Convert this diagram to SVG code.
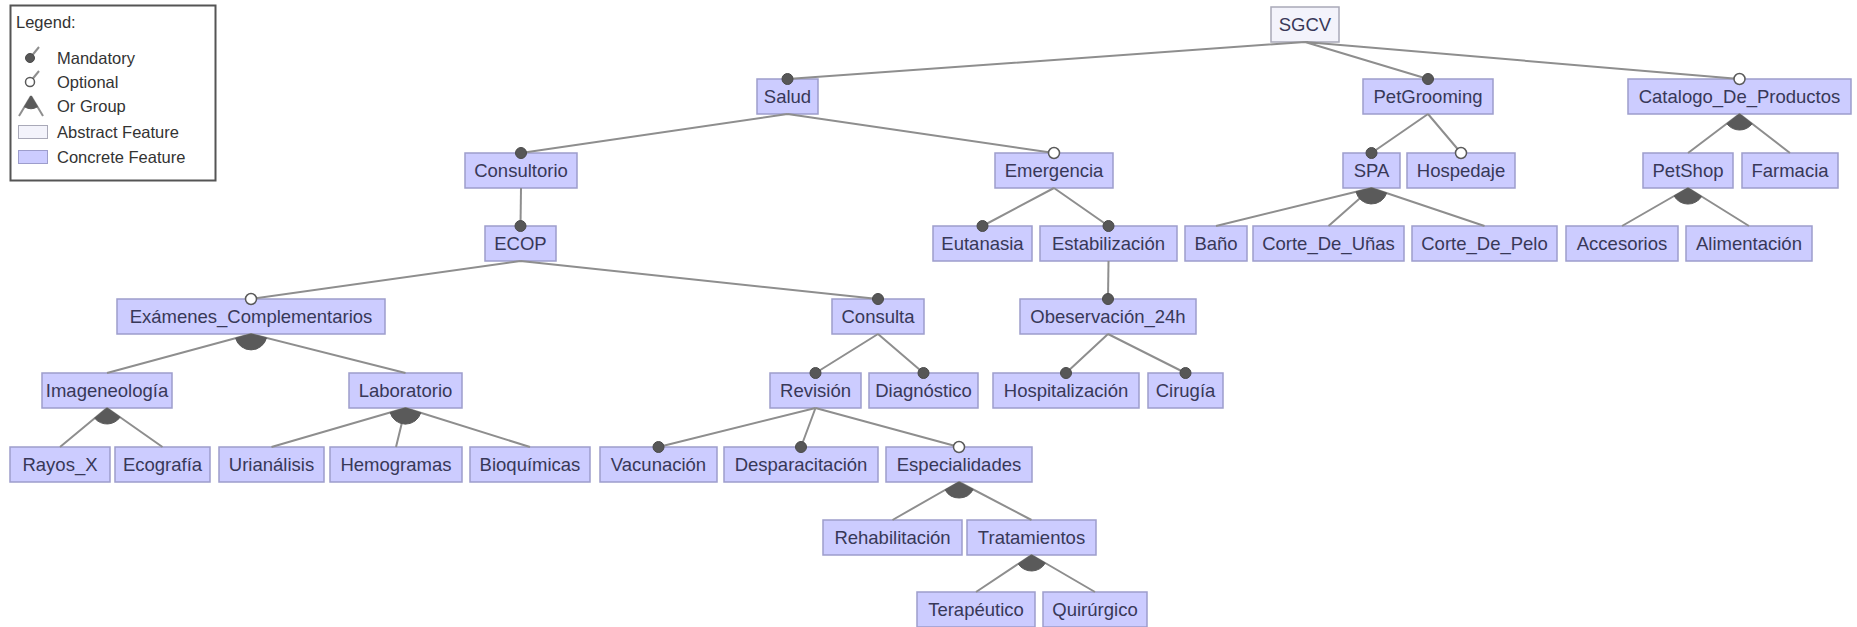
<svg xmlns="http://www.w3.org/2000/svg" width="1857" height="627" viewBox="0 0 1857 627">
  <style>
    .bg { fill: #ffffff; }
    .feat rect { fill: #ccccff; stroke: #9d9dcc; stroke-width: 1.5; }
    .feat.abstract rect { fill: #f3f3fb; stroke: #a9a9b8; }
    .feat text, .legend text { font-family: "Liberation Sans", Arial, sans-serif; text-anchor: middle; }
    .feat text { font-size: 18.5px; fill: #383858; }
    .legend text { font-size: 16.5px; fill: #333333; text-anchor: start; }
    .edge { stroke: #8e8e8e; stroke-width: 2; fill: none; }
    .mand { fill: #575757; stroke: #4a4a4a; stroke-width: 1; }
    .opt { fill: #ffffff; stroke: #5a5a5a; stroke-width: 1.5; }
    .orgrp { fill: #5a5a5a; stroke: #5a5a5a; stroke-width: 1; }
  </style>

  <rect class="bg" x="0" y="0" width="1857" height="627"/>

  <!-- legend -->
  <g id="legend" class="legend">
    <rect x="10.5" y="5.5" width="205" height="175" fill="#ffffff" stroke="#555555" stroke-width="2"/>
    <text x="16" y="28">Legend:</text>
    <line x1="30" y1="58" x2="39" y2="47" class="edge" stroke-width="1.5"/>
    <circle cx="30" cy="58" r="4.5" class="mand"/>
    <text x="57" y="64">Mandatory</text>
    <line x1="30" y1="82" x2="39" y2="71" class="edge" stroke-width="1.5"/>
    <circle cx="30" cy="82" r="4.5" class="opt"/>
    <text x="57" y="88">Optional</text>
    <line x1="31" y1="96" x2="19" y2="116" class="edge" stroke-width="1.5"/>
    <line x1="31" y1="96" x2="43" y2="116" class="edge" stroke-width="1.5"/>
    <path d="M31,96 L24.5,106.8 A12.5,12.5 0 0 0 37.5,106.8 Z" class="orgrp"/>
    <text x="57" y="112">Or Group</text>
    <rect x="18.5" y="125.5" width="29" height="13" fill="#f3f3fb" stroke="#a9a9b8" stroke-width="1"/>
    <text x="57" y="138">Abstract Feature</text>
    <rect x="18.5" y="150.5" width="29" height="13" fill="#ccccff" stroke="#9d9dcc" stroke-width="1"/>
    <text x="57" y="163">Concrete Feature</text>
  </g>

  <!-- features -->
  <g id="SGCV" class="feat abstract"><rect x="1271" y="7" width="68" height="35"/><text x="1305" y="31">SGCV</text></g>

  <g id="Salud" class="feat"><rect x="757" y="79" width="61" height="35"/><text x="787.5" y="103">Salud</text></g>
  <g id="PetGrooming" class="feat"><rect x="1363" y="79" width="130" height="35"/><text x="1428" y="103">PetGrooming</text></g>
  <g id="Catalogo_De_Productos" class="feat"><rect x="1628" y="79" width="223" height="35"/><text x="1739.5" y="103">Catalogo_De_Productos</text></g>

  <g id="Consultorio" class="feat"><rect x="465" y="153" width="112" height="35"/><text x="521" y="177">Consultorio</text></g>
  <g id="Emergencia" class="feat"><rect x="995" y="153" width="118" height="35"/><text x="1054" y="177">Emergencia</text></g>
  <g id="SPA" class="feat"><rect x="1343" y="153" width="57" height="35"/><text x="1371.5" y="177">SPA</text></g>
  <g id="Hospedaje" class="feat"><rect x="1407" y="153" width="108" height="35"/><text x="1461" y="177">Hospedaje</text></g>
  <g id="PetShop" class="feat"><rect x="1643" y="153" width="90" height="35"/><text x="1688" y="177">PetShop</text></g>
  <g id="Farmacia" class="feat"><rect x="1742" y="153" width="96" height="35"/><text x="1790" y="177">Farmacia</text></g>

  <g id="ECOP" class="feat"><rect x="485" y="226" width="71" height="35"/><text x="520.5" y="250">ECOP</text></g>
  <g id="Eutanasia" class="feat"><rect x="933" y="226" width="99" height="35"/><text x="982.5" y="250">Eutanasia</text></g>
  <g id="Estabilizacion" class="feat"><rect x="1040" y="226" width="137" height="35"/><text x="1108.5" y="250">Estabilización</text></g>
  <g id="Bano" class="feat"><rect x="1185" y="226" width="62" height="35"/><text x="1216" y="250">Baño</text></g>
  <g id="Corte_De_Unas" class="feat"><rect x="1253" y="226" width="151" height="35"/><text x="1328.5" y="250">Corte_De_Uñas</text></g>
  <g id="Corte_De_Pelo" class="feat"><rect x="1412" y="226" width="145" height="35"/><text x="1484.5" y="250">Corte_De_Pelo</text></g>
  <g id="Accesorios" class="feat"><rect x="1566" y="226" width="112" height="35"/><text x="1622" y="250">Accesorios</text></g>
  <g id="Alimentacion" class="feat"><rect x="1686" y="226" width="126" height="35"/><text x="1749" y="250">Alimentación</text></g>

  <g id="Examenes_Complementarios" class="feat"><rect x="117" y="299" width="268" height="35"/><text x="251" y="323">Exámenes_Complementarios</text></g>
  <g id="Consulta" class="feat"><rect x="832" y="299" width="92" height="35"/><text x="878" y="323">Consulta</text></g>
  <g id="Obeservacion_24h" class="feat"><rect x="1020" y="299" width="176" height="35"/><text x="1108" y="323">Obeservación_24h</text></g>

  <g id="Imageneologia" class="feat"><rect x="42" y="373" width="130" height="35"/><text x="107" y="397">Imageneología</text></g>
  <g id="Laboratorio" class="feat"><rect x="349" y="373" width="113" height="35"/><text x="405.5" y="397">Laboratorio</text></g>
  <g id="Revision" class="feat"><rect x="770" y="373" width="91" height="35"/><text x="815.5" y="397">Revisión</text></g>
  <g id="Diagnostico" class="feat"><rect x="869" y="373" width="109" height="35"/><text x="923.5" y="397">Diagnóstico</text></g>
  <g id="Hospitalizacion" class="feat"><rect x="993" y="373" width="146" height="35"/><text x="1066" y="397">Hospitalización</text></g>
  <g id="Cirugia" class="feat"><rect x="1148" y="373" width="75" height="35"/><text x="1185.5" y="397">Cirugía</text></g>

  <g id="Rayos_X" class="feat"><rect x="10" y="447" width="100" height="35"/><text x="60" y="471">Rayos_X</text></g>
  <g id="Ecografia" class="feat"><rect x="115" y="447" width="95" height="35"/><text x="162.5" y="471">Ecografía</text></g>
  <g id="Urianalisis" class="feat"><rect x="219" y="447" width="105" height="35"/><text x="271.5" y="471">Urianálisis</text></g>
  <g id="Hemogramas" class="feat"><rect x="330" y="447" width="132" height="35"/><text x="396" y="471">Hemogramas</text></g>
  <g id="Bioquimicas" class="feat"><rect x="470" y="447" width="120" height="35"/><text x="530" y="471">Bioquímicas</text></g>
  <g id="Vacunacion" class="feat"><rect x="600" y="447" width="117" height="35"/><text x="658.5" y="471">Vacunación</text></g>
  <g id="Desparacitacion" class="feat"><rect x="724" y="447" width="154" height="35"/><text x="801" y="471">Desparacitación</text></g>
  <g id="Especialidades" class="feat"><rect x="886" y="447" width="146" height="35"/><text x="959" y="471">Especialidades</text></g>

  <g id="Rehabilitacion" class="feat"><rect x="823" y="520" width="139" height="35"/><text x="892.5" y="544">Rehabilitación</text></g>
  <g id="Tratamientos" class="feat"><rect x="967" y="520" width="129" height="35"/><text x="1031.5" y="544">Tratamientos</text></g>

  <g id="Terapeutico" class="feat"><rect x="917" y="592" width="118" height="35"/><text x="976" y="616">Terapéutico</text></g>
  <g id="Quirurgico" class="feat"><rect x="1043" y="592" width="104" height="35"/><text x="1095" y="616">Quirúrgico</text></g>

  <!-- connectors: parent bottom centre to child top centre -->
  <g id="connectors">
    <g class="edges">
      <path class="edge" d="M1305,42 L787.5,79 M1305,42 L1428,79 M1305,42 L1739.5,79"/>
      <path class="edge" d="M787.5,114 L521,153 M787.5,114 L1054,153"/>
      <path class="edge" d="M521,188 L520.5,226"/>
      <path class="edge" d="M520.5,261 L251,299 M520.5,261 L878,299"/>
      <path class="edge" d="M251,334 L107,373 M251,334 L405.5,373"/>
      <path class="edge" d="M107,408 L60,447 M107,408 L162.5,447"/>
      <path class="edge" d="M405.5,408 L271.5,447 M405.5,408 L396,447 M405.5,408 L530,447"/>
      <path class="edge" d="M878,334 L815.5,373 M878,334 L923.5,373"/>
      <path class="edge" d="M815.5,408 L658.5,447 M815.5,408 L801,447 M815.5,408 L959,447"/>
      <path class="edge" d="M959,482 L892.5,520 M959,482 L1031.5,520"/>
      <path class="edge" d="M1031.5,555 L976,592 M1031.5,555 L1095,592"/>
      <path class="edge" d="M1054,188 L982.5,226 M1054,188 L1108.5,226"/>
      <path class="edge" d="M1108.5,261 L1108,299"/>
      <path class="edge" d="M1108,334 L1066,373 M1108,334 L1185.5,373"/>
      <path class="edge" d="M1428,114 L1371.5,153 M1428,114 L1461,153"/>
      <path class="edge" d="M1371.5,188 L1216,226 M1371.5,188 L1328.5,226 M1371.5,188 L1484.5,226"/>
      <path class="edge" d="M1739.5,114 L1688,153 M1739.5,114 L1790,153"/>
      <path class="edge" d="M1688,188 L1622,226 M1688,188 L1749,226"/>
    </g>

    <!-- or-groups -->
    <g class="orgroups">
      <path class="orgrp" d="M251,334 L235.6,338.2 A16,16 0 0 0 266.5,337.9 Z"/>
      <path class="orgrp" d="M107,408 L94.7,418.2 A16,16 0 0 0 120.1,417.2 Z"/>
      <path class="orgrp" d="M405.5,408 L390.1,412.5 A16,16 0 0 0 420.8,412.8 Z"/>
      <path class="orgrp" d="M959,482 L945.1,489.9 A16,16 0 0 0 973.2,489.4 Z"/>
      <path class="orgrp" d="M1031.5,555 L1018.2,563.9 A16,16 0 0 0 1045.3,563.1 Z"/>
      <path class="orgrp" d="M1371.5,188 L1356,191.8 A16,16 0 0 0 1386.7,193.1 Z"/>
      <path class="orgrp" d="M1739.5,114 L1726.8,123.7 A16,16 0 0 0 1752.2,123.8 Z"/>
      <path class="orgrp" d="M1688,188 L1674.1,196 A16,16 0 0 0 1701.6,196.5 Z"/>
    </g>

    <!-- mandatory -->
    <g class="mandatory">
      <circle class="mand" cx="787.5" cy="79" r="5.5"/>
      <circle class="mand" cx="1428" cy="79" r="5.5"/>
      <circle class="mand" cx="521" cy="153" r="5.5"/>
      <circle class="mand" cx="520.5" cy="226" r="5.5"/>
      <circle class="mand" cx="878" cy="299" r="5.5"/>
      <circle class="mand" cx="815.5" cy="373" r="5.5"/>
      <circle class="mand" cx="923.5" cy="373" r="5.5"/>
      <circle class="mand" cx="658.5" cy="447" r="5.5"/>
      <circle class="mand" cx="801" cy="447" r="5.5"/>
      <circle class="mand" cx="982.5" cy="226" r="5.5"/>
      <circle class="mand" cx="1108.5" cy="226" r="5.5"/>
      <circle class="mand" cx="1108" cy="299" r="5.5"/>
      <circle class="mand" cx="1066" cy="373" r="5.5"/>
      <circle class="mand" cx="1185.5" cy="373" r="5.5"/>
      <circle class="mand" cx="1371.5" cy="153" r="5.5"/>
    </g>

    <!-- optional -->
    <g class="optional">
      <circle class="opt" cx="1739.5" cy="79" r="5.5"/>
      <circle class="opt" cx="1054" cy="153" r="5.5"/>
      <circle class="opt" cx="251" cy="299" r="5.5"/>
      <circle class="opt" cx="959" cy="447" r="5.5"/>
      <circle class="opt" cx="1461" cy="153" r="5.5"/>
    </g>
  </g>
</svg>
